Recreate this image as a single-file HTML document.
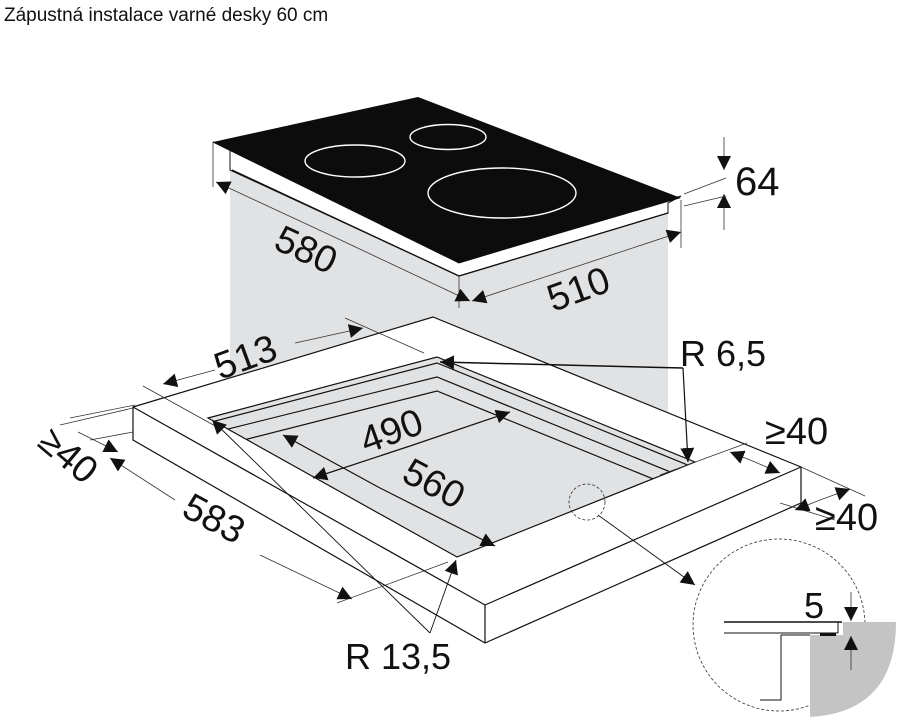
<!DOCTYPE html>
<html><head><meta charset="utf-8"><style>
html,body{margin:0;padding:0;background:#fff}
svg{display:block}
text{font-family:"Liberation Sans",sans-serif;fill:#111}
</style></head><body>
<svg width="897" height="718" viewBox="0 0 897 718" xmlns="http://www.w3.org/2000/svg">
<defs>
<marker id="a" viewBox="0 0 10 10" refX="10" refY="5" markerWidth="14" markerHeight="14" markerUnits="userSpaceOnUse" orient="auto"><path d="M0,0 L10,5 L0,10 Z" fill="#111"/></marker>
<clipPath id="cut"><path d="M208,418 L437,357 L695,462 L457,557 Z"/></clipPath>
</defs>
<text x="4" y="21" font-size="19">Zápustná instalace varné desky 60 cm</text>

<path d="M230,165 L459,272 L668,208 L668,472 L230,472 Z" fill="#e1e2e4"/>

<path d="M213,142 L230,150 L230,170 L459,276 L668,213 L668,203 L681,196 L459,263 Z" fill="#fff" stroke="#111" stroke-width="1"/>
<path d="M232,170 L459,276 L668,213" fill="none" stroke="#111" stroke-width="1.3"/>
<path d="M213,142 L418,97 L681,198 L459,263 Z" fill="#0c0c0c"/>
<ellipse cx="355" cy="161" rx="50" ry="16" fill="none" stroke="#fff" stroke-width="1.4"/>
<ellipse cx="448" cy="137" rx="38" ry="12.5" fill="none" stroke="#fff" stroke-width="1.4"/>
<ellipse cx="502" cy="193" rx="74" ry="25" fill="none" stroke="#fff" stroke-width="1.4"/>

<path d="M133,407 L433,317 L801,467 L801,503 L485,643 L133,440 Z" fill="#fff" stroke="#111" stroke-width="1.2"/>
<path d="M133,407 L485,605 L801,467 M485,605 L485,643" fill="none" stroke="#111" stroke-width="1.2"/>
<path d="M208,418 L437,357 L695,462 L457,557 Z" fill="#e1e2e4" stroke="#111" stroke-width="1.2"/>
<g clip-path="url(#cut)" fill="none" stroke="#111" stroke-width="1.2">
<path d="M200,425 L437,363 L700,470"/>
<path d="M200,436 L437,377 L700,484"/>
<path d="M200,451 L437,391 L700,498"/>
</g>

<g stroke="#333" stroke-width="0.8" fill="none">
<line x1="213" y1="142" x2="213" y2="187"/>
<line x1="459" y1="276" x2="459" y2="308"/>
<line x1="330" y1="235" x2="470" y2="301" marker-end="url(#a)"/>
<line x1="330" y1="235" x2="216" y2="182" marker-end="url(#a)"/>
<line x1="681" y1="200" x2="681" y2="248"/>
<line x1="560" y1="272" x2="681" y2="232" marker-end="url(#a)"/>
<line x1="560" y1="272" x2="472" y2="301" marker-end="url(#a)"/>
<line x1="724" y1="137" x2="724" y2="170" marker-end="url(#a)"/>
<line x1="724" y1="230" x2="724" y2="194" marker-end="url(#a)"/>
<line x1="684" y1="194" x2="726" y2="178"/>
<line x1="684" y1="206" x2="726" y2="196"/>
<line x1="143" y1="386" x2="217" y2="427"/>
<line x1="345" y1="318" x2="424" y2="353"/>
<line x1="215" y1="370" x2="163" y2="384" marker-end="url(#a)"/>
<line x1="295" y1="343" x2="363" y2="328" marker-end="url(#a)"/>
<line x1="60" y1="425" x2="133" y2="408"/>
<line x1="337" y1="603" x2="448" y2="562"/>
<line x1="175" y1="500" x2="110" y2="458" marker-end="url(#a)"/>
<line x1="260" y1="555" x2="352" y2="599" marker-end="url(#a)"/>
<line x1="70" y1="418" x2="135" y2="405"/>
<line x1="90" y1="440" x2="133" y2="432"/>
<line x1="78" y1="432" x2="118" y2="452" marker-end="url(#a)"/>
<line x1="660" y1="475" x2="747" y2="443"/>
<line x1="801" y1="467" x2="865" y2="496"/>
<line x1="780" y1="503" x2="835" y2="520"/>
<line x1="755" y1="462" x2="730" y2="452" marker-end="url(#a)"/>
<line x1="755" y1="462" x2="780" y2="473" marker-end="url(#a)"/>
<line x1="820" y1="500" x2="795" y2="510" marker-end="url(#a)"/>
<line x1="820" y1="500" x2="850" y2="489" marker-end="url(#a)"/>
</g>
<g stroke="#111" stroke-width="1.2" fill="none">
<line x1="410" y1="446" x2="313" y2="478" marker-end="url(#a)"/>
<line x1="410" y1="446" x2="510" y2="412" marker-end="url(#a)"/>
<line x1="380" y1="488" x2="283" y2="435" marker-end="url(#a)"/>
<line x1="380" y1="488" x2="495" y2="546" marker-end="url(#a)"/>
<line x1="430" y1="633" x2="212" y2="420" stroke-width="0.9" marker-end="url(#a)"/>
<line x1="430" y1="633" x2="456" y2="560" stroke-width="0.9" marker-end="url(#a)"/>
<line x1="683" y1="368" x2="440" y2="362" stroke-width="1.5" marker-end="url(#a)"/>
<line x1="683" y1="368" x2="688" y2="462" marker-end="url(#a)"/>
<line x1="598" y1="515" x2="695" y2="585" stroke-width="0.9" marker-end="url(#a)"/>
</g>
<circle cx="587" cy="502" r="18" fill="none" stroke="#333" stroke-width="0.8" stroke-dasharray="3,2"/>
<circle cx="779" cy="625" r="86" fill="none" stroke="#333" stroke-width="0.8" stroke-dasharray="3,2"/>
<path d="M843,622 L896,622 Q896,712 810,717 L810,635 L843,635 Z" fill="#c4c4c4"/>
<line x1="724" y1="622" x2="842" y2="622" stroke="#111" stroke-width="1.5"/>
<line x1="724" y1="633" x2="838" y2="633" stroke="#111" stroke-width="1"/>
<line x1="838" y1="622" x2="838" y2="633" stroke="#111" stroke-width="1"/>
<rect x="820" y="633" width="16" height="3" fill="#111"/>
<path d="M781,635 L781,700 L760,700 M781,635 L810,635" fill="none" stroke="#111" stroke-width="1"/>
<line x1="851" y1="592" x2="851" y2="621" stroke="#333" stroke-width="0.8" marker-end="url(#a)"/>
<line x1="851" y1="670" x2="851" y2="636" stroke="#333" stroke-width="0.8" marker-end="url(#a)"/>

<text x="0" y="0" font-size="38" transform="translate(272,248) rotate(25)">580</text>
<text x="0" y="0" font-size="38" transform="translate(553,312) rotate(-20)">510</text>
<text x="735" y="195" font-size="40">64</text>
<text x="0" y="0" font-size="38" transform="translate(220,380) rotate(-20)">513</text>
<text x="680" y="366" font-size="36">R 6,5</text>
<text x="0" y="0" font-size="38" transform="translate(366,454) rotate(-20)">490</text>
<text x="0" y="0" font-size="38" transform="translate(400,480) rotate(28)">560</text>
<text x="765" y="444" font-size="38">≥40</text>
<text x="815" y="530" font-size="38">≥40</text>
<text x="0" y="0" font-size="38" transform="translate(36,445) rotate(40)">≥40</text>
<text x="0" y="0" font-size="38" transform="translate(180,515) rotate(28)">583</text>
<text x="345" y="669" font-size="36">R 13,5</text>
<text x="804" y="618" font-size="36">5</text>
</svg>
</body></html>
